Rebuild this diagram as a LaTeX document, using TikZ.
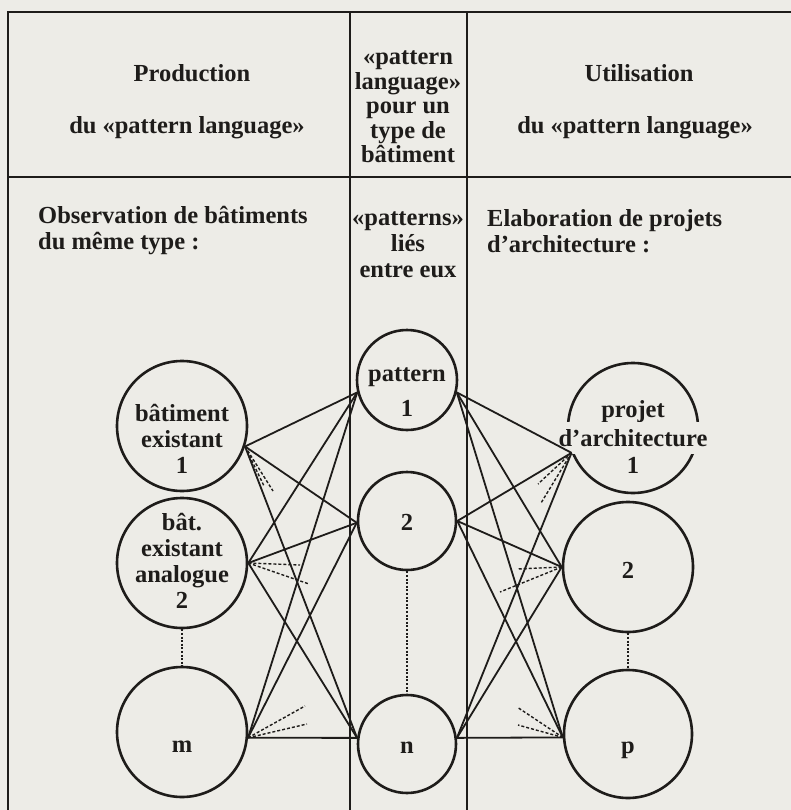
\documentclass[tikz,border=0pt]{standalone}
\usepackage{fontspec}
\setmainfont{Liberation Serif}
\definecolor{bg}{RGB}{237,236,231}
\definecolor{ink}{RGB}{30,28,26}
\tikzset{
  txt/.style={font=\bfseries\fontsize{24.5}{26}\selectfont, text=ink, inner sep=0pt},
  rule/.style={draw=ink, line width=2.3pt},
  ring/.style={circle, draw=ink, line width=2.6pt, inner sep=0pt, minimum size=#1},
  link/.style={draw=ink, line width=1.8pt},
  stub/.style={draw=ink, line width=1.4pt, dash pattern=on 3pt off 2pt},
  dots/.style={draw=ink, line width=2.2pt, dash pattern=on 2pt off 1.6pt},
}
\begin{document}
\begin{tikzpicture}[x=1pt,y=-1pt]
\fill[bg] (0,0) rectangle (791,810);
\useasboundingbox (0,0) rectangle (791,810);
% table rules
\draw[rule] (791,12) -- (8,12) -- (8,810);
\draw[rule] (8,177) -- (791,177);
\draw[rule] (350,12) -- (350,810);
\draw[rule] (467,12) -- (467,810);
% headers
\node[txt] (h1) at (192,73) {Production};
\node[txt] (h2) at (187,128) {du «pattern language»};
\node[txt, align=center, font=\bfseries\fontsize{24.5}{24.5}\selectfont] (h3) at (408,107) {«pattern\\language»\\pour un\\type de\\bâtiment};
\node[txt] (h4) at (639,73) {Utilisation};
\node[txt] (h5) at (635,128) {du «pattern language»};
\node[txt, align=left, anchor=west] (r1) at (38,231) {Observation de bâtiments\\du même type :};
\node[txt, align=center] (r2) at (408,245) {«patterns»\\liés\\entre eux};
\node[txt, align=left, anchor=west] (r3) at (487,231) {Elaboration de projets\\d’architecture :};
% circles
\node[ring=130pt] (B1) at (182,426) {};
\node[ring=130pt] (B2) at (182,563) {};
\node[ring=130pt] (Bm) at (182,732) {};
\node[ring=100pt] (P1) at (407,380) {};
\node[ring=98pt] (P2) at (407,521) {};
\node[ring=98pt] (Pn) at (407,744) {};
\node[ring=130pt] (R1) at (633,428) {};
\node[ring=130pt] (R2) at (628,567) {};
\node[ring=128pt] (Rp) at (628,734) {};
% circle labels
\node[txt, align=center] (B1t) at (182,439) {bâtiment\\existant\\1};
\node[txt, align=center] (B2t) at (182,561) {bât.\\existant\\analogue\\2};
\node[txt] (Bmt) at (182,747) {m};
\node[txt, align=center] (P1t) at (407,392) {pattern\\[9pt]1};
\node[txt] (P2t) at (407,522) {2};
\node[txt] (Pnt) at (407,748) {n};
\node[txt] (R1a) at (633,412) {projet};
\node[txt, fill=bg, inner xsep=1pt, inner ysep=7pt] (R1b) at (633,438) {d’architecture};
\node[txt] (R1c) at (633,465) {1};
\node[txt] (R2t) at (628,570) {2};
\node[txt] (Rpt) at (628,750) {p};
% solid links
\foreach \a in {B1.-18, B2.0, Bm.-5}
  \foreach \b in {P1.194, P2.182, Pn.173}
    \draw[link] (\a) -- (\b);
\foreach \a in {P1.-14, P2.0, Pn.7}
  \foreach \b in {R1.202, R2.180, Rp.183}
    \draw[link] (\a) -- (\b);
% dashed stubs
\coordinate (s1a) at (273,491);
\coordinate (s1b) at (264,486);
\coordinate (s2a) at (300,565);
\coordinate (s2b) at (309,584);
\coordinate (s3a) at (305,706);
\coordinate (s3b) at (307,724);
\coordinate (t1a) at (541,503);
\coordinate (t1b) at (538,484);
\coordinate (t2a) at (517,569);
\coordinate (t2b) at (500,592);
\coordinate (t3a) at (517,707);
\coordinate (t3b) at (518,725);
\draw[stub] (B1.-18) -- (s1a);
\draw[stub] (B1.-18) -- (s1b);
\draw[stub] (B2.0) -- (s2a);
\draw[stub] (B2.0) -- (s2b);
\draw[stub] (Bm.-5) -- (s3a);
\draw[stub] (Bm.-5) -- (s3b);
\draw[stub] (R1.202) -- (t1a);
\draw[stub] (R1.202) -- (t1b);
\draw[stub] (R2.180) -- (t2a);
\draw[stub] (R2.180) -- (t2b);
\draw[stub] (Rp.183) -- (t3a);
\draw[stub] (Rp.183) -- (t3b);
% dotted continuation lines
\draw[dots] (B2.south) -- (Bm.north);
\draw[dots] (P2.south) -- (Pn.north);
\draw[dots] (R2.south) -- (Rp.north);
\end{tikzpicture}
\end{document}
